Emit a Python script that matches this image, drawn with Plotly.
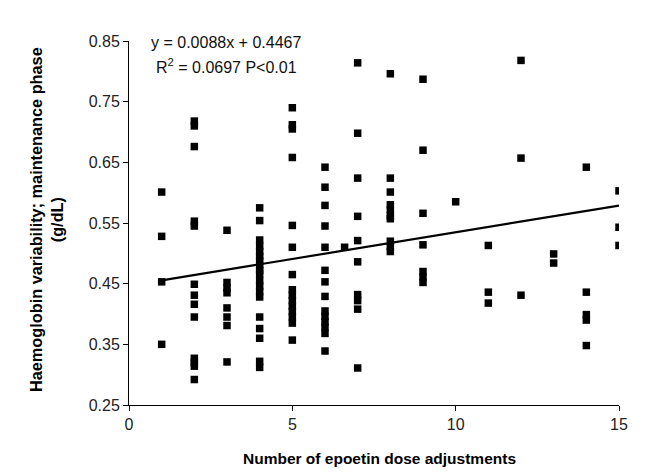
import plotly.graph_objects as go

# Number of epoetin dose adjustments (x) and haemoglobin variability (y)
dose_adjustments = (
    [1] * 4 + [2] * 13 + [3] * 8 + [4] * 19 + [5] * 15 + [6] * 14 + [6.6] +
    [7] * 10 + [8] * 10 + [9] * 7 + [10] + [11] * 3 + [12] * 3 + [13] * 2 +
    [14] * 5 + [15] * 3
)
hb_variability = [
    0.601, 0.528, 0.453, 0.350,
    0.718, 0.710, 0.676, 0.553, 0.545, 0.449, 0.431, 0.416, 0.395, 0.327, 0.320, 0.314, 0.292,
    0.538, 0.452, 0.443, 0.435, 0.410, 0.395, 0.381, 0.321,
    0.575, 0.554, 0.522, 0.512, 0.503, 0.495, 0.488, 0.480, 0.472, 0.466, 0.455, 0.446, 0.437,
    0.428, 0.395, 0.376, 0.360, 0.322, 0.312,
    0.740, 0.712, 0.705, 0.658, 0.546, 0.510, 0.465, 0.440, 0.431, 0.422, 0.413, 0.404, 0.395,
    0.385, 0.357,
    0.642, 0.609, 0.579, 0.545, 0.510, 0.472, 0.453, 0.429, 0.405, 0.396, 0.387, 0.378, 0.368, 0.339,
    0.510,
    0.814, 0.698, 0.624, 0.561, 0.521, 0.486, 0.432, 0.422, 0.408, 0.311,
    0.796, 0.624, 0.601, 0.580, 0.572, 0.562, 0.557, 0.520, 0.511, 0.503,
    0.787, 0.670, 0.566, 0.514, 0.470, 0.461, 0.452,
    0.585,
    0.513, 0.436, 0.418,
    0.818, 0.657, 0.431,
    0.499, 0.484,
    0.642, 0.436, 0.399, 0.390, 0.348,
    0.603, 0.543, 0.513,
]

# Regression line
slope = 0.0088
intercept = 0.4467
fit_x = [1, 15]
fit_y = [slope * v + intercept for v in fit_x]

x_ticks = [0, 5, 10, 15]
y_ticks = [0.25, 0.35, 0.45, 0.55, 0.65, 0.75, 0.85]

font_family = "Liberation Sans, Arial, sans-serif"

fig = go.Figure()
fig.add_trace(go.Scatter(
    x=dose_adjustments, y=hb_variability, mode="markers",
    marker=dict(symbol="square", size=7.5, color="black"),
    showlegend=False,
))
fig.add_trace(go.Scatter(
    x=fit_x, y=fit_y, mode="lines",
    line=dict(color="black", width=2.2),
    showlegend=False,
))

fig.update_layout(
    width=651, height=476,
    margin=dict(l=121, r=40, t=33, b=79),
    paper_bgcolor="white", plot_bgcolor="white",
    font=dict(family=font_family, size=16, color="black"),
    xaxis=dict(
        range=[0, 15], tickvals=x_ticks, ticks="outside", ticklen=5,
        tickcolor="black", showline=True, linecolor="black", linewidth=1,
        showgrid=False, zeroline=False,
        tickfont=dict(size=16, color="#222"),
    ),
    yaxis=dict(
        range=[0.25, 0.85], tickvals=y_ticks, tickformat=".2f",
        ticks="outside", ticklen=5, tickcolor="black",
        showline=True, linecolor="black", linewidth=1,
        showgrid=False, zeroline=False,
        tickfont=dict(size=16, color="#222"),
    ),
    annotations=[
        dict(text="y = 0.0088x + 0.4467", x=218, y=35, showarrow=False,
             font=dict(size=16, color="#111")),
        dict(text="R<sup>2</sup> = 0.0697 P<0.01", x=218, y=58, showarrow=False,
             font=dict(size=16, color="#111")),
        dict(text="<b>Number of epoetin dose adjustments</b>", x=371, y=450,
             showarrow=False, font=dict(size=15.5)),
        dict(text="<b>Haemoglobin variability; maintenance phase</b><br><b>(g/dL)</b>",
             x=38, y=212, textangle=-90, showarrow=False, font=dict(size=16.3)),
    ],
)

# place annotations in pixel coordinates by converting to paper coords
plot_l, plot_r, plot_t, plot_b = 121, 611, 33, 397
pw, ph = plot_r - plot_l, plot_b - plot_t
new_ann = []
for a in fig.layout.annotations:
    px, py = a.x, a.y
    a.update(xref="paper", yref="paper",
             x=(px - plot_l) / pw, y=(plot_b - py) / ph,
             xanchor="center", yanchor="middle")
    new_ann.append(a)
fig.layout.annotations = new_ann

fig.write_html("out.html")
